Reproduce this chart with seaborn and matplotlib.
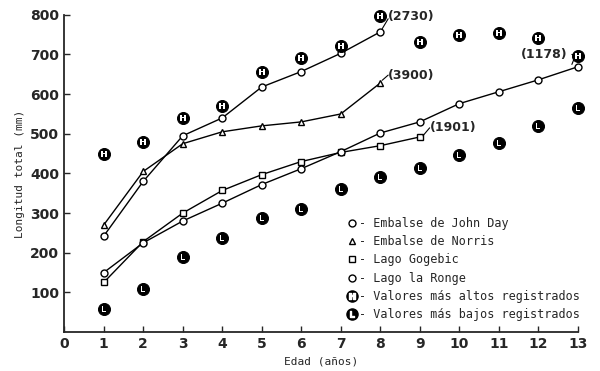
import matplotlib
matplotlib.use("Agg")
import matplotlib.pyplot as plt
import seaborn as sns
import pandas as pd
from matplotlib.lines import Line2D
from matplotlib.legend_handler import HandlerTuple

sns.set_style("ticks")
plt.rcParams['font.family'] = ['DejaVu Sans']

edad_jd = [1, 2, 3, 4, 5, 6, 7, 8]
john_day = [242, 380, 495, 540, 618, 657, 703, 757]
edad_no = [1, 2, 3, 4, 5, 6, 7, 8]
norris = [270, 405, 475, 505, 520, 530, 550, 628]
edad_go = [1, 2, 3, 4, 5, 6, 7, 8, 9]
gogebic = [125, 228, 300, 357, 397, 430, 453, 470, 492]
edad_lr = [1, 2, 3, 4, 5, 6, 7, 8, 9, 10, 11, 12, 13]
la_ronge = [150, 225, 280, 325, 372, 412, 455, 502, 530, 576, 606, 636, 669]
edad_hl = [1, 2, 3, 4, 5, 6, 7, 8, 9, 10, 11, 12, 13]
altos = [450, 480, 540, 570, 655, 690, 722, 797, 732, 750, 755, 742, 697]
bajos = [57, 108, 190, 237, 287, 310, 360, 390, 414, 447, 477, 520, 566]

labels = ["Embalse de John Day", "Embalse de Norris", "Lago Gogebic",
          "Lago la Ronge", "Valores más altos registrados",
          "Valores más bajos registrados"]

fig = plt.figure(figsize=(6, 3.71), dpi=100)
ax = fig.add_axes([0.107, 0.105, 0.856, 0.855])

mono = "DejaVu Sans Mono"
series = [(edad_jd, john_day, "o"), (edad_no, norris, "^"),
          (edad_go, gogebic, "s"), (edad_lr, la_ronge, "o")]
for xs, ys, m in series:
    df = pd.DataFrame({"x": xs, "y": ys})
    sns.lineplot(data=df, x="x", y="y", ax=ax, color="black", lw=1.0,
                 marker=m, markersize=5, markerfacecolor="white",
                 markeredgecolor="black", markeredgewidth=1.0)

for ys, letter in [(altos, "H"), (bajos, "L")]:
    df = pd.DataFrame({"x": edad_hl, "y": ys})
    sns.scatterplot(data=df, x="x", y="y", ax=ax, color="black", s=75,
                    edgecolor="black", zorder=5)
    ax.scatter(edad_hl, ys, marker="$\\mathbf{%s}$" % letter, color="white",
               s=22, zorder=6, linewidths=0)

for art in list(ax.lines) + list(ax.collections):
    art.set_clip_on(False)

# annotations
ax.text(8.2, 795, "(2730)", fontsize=9, fontweight="bold", va="center")
ax.plot([8.05, 8.2], [765, 790], color="black", lw=0.8)
ax.text(8.2, 648, "(3900)", fontsize=9, fontweight="bold", va="center")
ax.plot([8.05, 8.2], [635, 648], color="black", lw=0.8)
ax.text(9.25, 515, "(1901)", fontsize=9, fontweight="bold", va="center")
ax.plot([9.08, 9.25], [495, 515], color="black", lw=0.8)
ax.text(11.55, 700, "(1178)", fontsize=9, fontweight="bold", va="center")
ax.plot([12.85, 12.95, 12.85], [700, 700, 675], color="black", lw=0.8)

ax.set_xlim(0, 13)
ax.set_ylim(0, 800)
ax.set_xticks(range(0, 14))
ax.set_yticks(range(100, 900, 100))
for t in ax.get_xticklabels() + ax.get_yticklabels():
    t.set_fontweight("bold")
    t.set_fontsize(10)
ax.tick_params(direction="in", length=4, width=1)
ax.set_xlabel("Edad (años)", fontfamily=mono, fontsize=8)
ax.set_ylabel("Longitud total (mm)", fontfamily=mono, fontsize=8)
sns.despine(ax=ax)
for s in ["left", "bottom"]:
    ax.spines[s].set_linewidth(1.3)

# legend
h_open = lambda m: Line2D([], [], ls="none", marker=m, markersize=5,
                          markerfacecolor="white", markeredgecolor="black")
blk = lambda: Line2D([], [], ls="none", marker="o", markersize=8, color="black")
let = lambda c: Line2D([], [], ls="none", marker="$\\mathbf{%s}$" % c,
                       markersize=4.5, color="white")
handles = [h_open("o"), h_open("^"), h_open("s"), h_open("o"),
           (blk(), let("H")), (blk(), let("L"))]
leg = ax.legend(handles, ["- " + l for l in labels], loc="lower right",
                bbox_to_anchor=(1.025, 0.0), frameon=False,
                prop={"family": mono, "size": 8.5}, handlelength=0.8,
                handletextpad=0.2, labelspacing=0.45,
                handler_map={tuple: HandlerTuple(ndivide=1, pad=0)})

fig.savefig("out.png", dpi=100)
